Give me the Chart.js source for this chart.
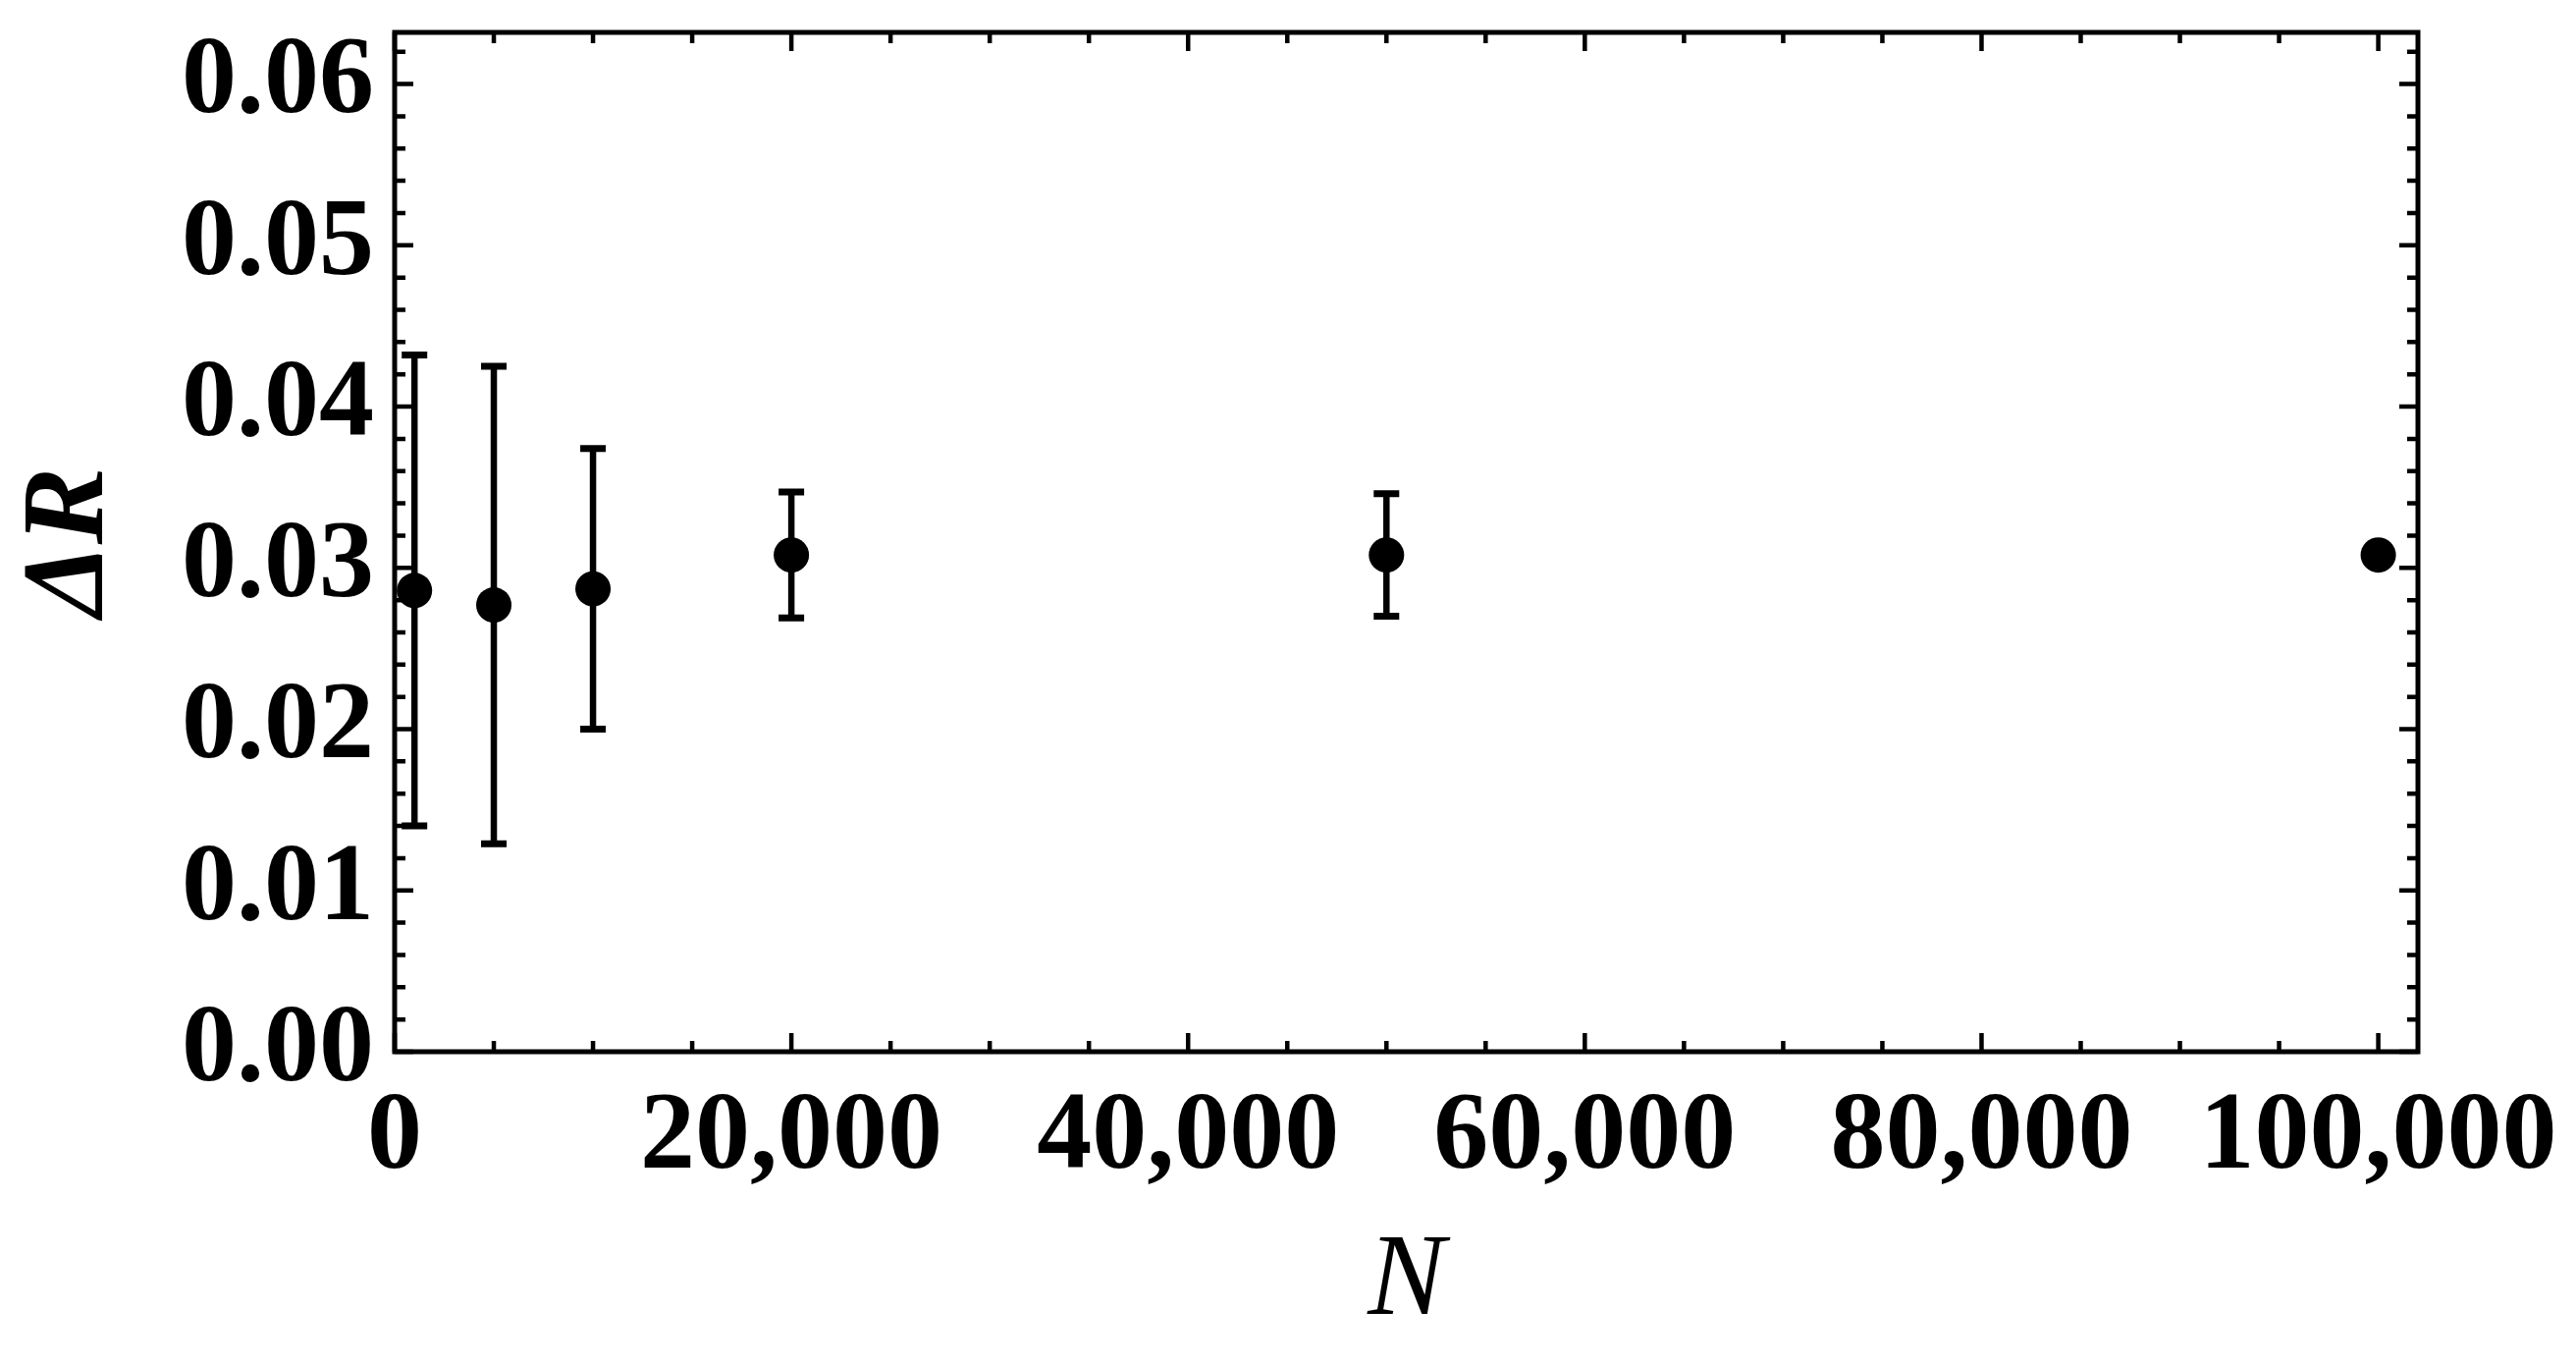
<!DOCTYPE html>
<html>
<head>
<meta charset="utf-8">
<script src="https://cdn.jsdelivr.net/npm/chart.js@4.4.1/dist/chart.umd.min.js"></script>
<style>
html,body{margin:0;padding:0;background:#fff;}
#wrap{width:2624px;height:1389px;}
</style>
</head>
<body>
<div id="wrap"><canvas id="c" width="2624" height="1389"></canvas></div>
<script>
// Data
const sampleSizes = [1000, 5000, 10000, 20000, 50000, 100000];
const deltaR      = [0.0286, 0.0277, 0.0287, 0.0308, 0.0308, 0.0308];
const deltaRErr   = [0.0146, 0.0148, 0.0087, 0.0039, 0.0038, 0];

const xTickValues = [0, 20000, 40000, 60000, 80000, 100000];
const yTickValues = [0.00, 0.01, 0.02, 0.03, 0.04, 0.05, 0.06];
const xMinorStep = 5000;
const yMinorStep = 0.002;

const X_MIN = 0, X_MAX = 102000;
const Y_MIN = 0, Y_MAX = 0.0632;

const FONT = "'Liberation Serif', 'Times New Roman', serif";

const points = sampleSizes.map((n, i) => ({x: n, y: deltaR[i]}));

const errorBarPlugin = {
  id: 'errorBars',
  beforeDatasetsDraw(chart) {
    const ctx = chart.ctx;
    const xs = chart.scales.x, ys = chart.scales.y;
    ctx.save();
    ctx.strokeStyle = '#000';
    ctx.lineCap = 'butt';
    sampleSizes.forEach((n, i) => {
      const e = deltaRErr[i];
      if (!e) return;
      const px = xs.getPixelForValue(n);
      const top = ys.getPixelForValue(deltaR[i] + e);
      const bot = ys.getPixelForValue(deltaR[i] - e);
      ctx.lineWidth = 6.5;
      ctx.beginPath();
      ctx.moveTo(px, top); ctx.lineTo(px, bot);
      ctx.stroke();
      ctx.lineWidth = 7;
      ctx.beginPath();
      ctx.moveTo(px - 13, top); ctx.lineTo(px + 13, top);
      ctx.moveTo(px - 13, bot); ctx.lineTo(px + 13, bot);
      ctx.stroke();
    });
    ctx.restore();
  }
};

const framePlugin = {
  id: 'frameTicks',
  afterDraw(chart) {
    const ctx = chart.ctx;
    const a = chart.chartArea;
    const xs = chart.scales.x, ys = chart.scales.y;
    ctx.save();
    ctx.strokeStyle = '#000';
    ctx.lineWidth = 4.5;
    ctx.beginPath();
    const eps = 1e-9;
    for (let v = 0; v <= X_MAX + eps; v += xMinorStep) {
      const major = xTickValues.some(t => Math.abs(t - v) < 1);
      const len = major ? 19 : 11;
      const px = xs.getPixelForValue(v);
      ctx.moveTo(px, a.bottom); ctx.lineTo(px, a.bottom - len);
      ctx.moveTo(px, a.top); ctx.lineTo(px, a.top + len);
    }
    for (let k = 0; k * yMinorStep <= Y_MAX + eps; k++) {
      const v = k * yMinorStep;
      const major = yTickValues.some(t => Math.abs(t - v) < 1e-6);
      const len = major ? 19 : 11;
      const py = ys.getPixelForValue(v);
      ctx.moveTo(a.left, py); ctx.lineTo(a.left + len, py);
      ctx.moveTo(a.right, py); ctx.lineTo(a.right - len, py);
    }
    ctx.stroke();
    ctx.lineWidth = 5;
    ctx.strokeRect(a.left, a.top, a.right - a.left, a.bottom - a.top);
    ctx.restore();
  }
};

new Chart(document.getElementById('c'), {
  type: 'scatter',
  data: {
    datasets: [{
      data: points,
      backgroundColor: '#000',
      borderColor: '#000',
      pointRadius: 18,
      pointHoverRadius: 18,
      borderWidth: 0
    }]
  },
  options: {
    responsive: false,
    animation: false,
    devicePixelRatio: 1,
    events: [],
    layout: {padding: {top: 33, right: 161, left: 0, bottom: 0}},
    plugins: {legend: {display: false}, tooltip: {enabled: false}},
    scales: {
      x: {
        type: 'linear',
        min: X_MIN, max: X_MAX,
        grid: {display: false, drawTicks: false},
        border: {display: false},
        afterFit(scale) { scale.height = 318; scale.paddingLeft = 0; scale.paddingRight = 0; },
        afterBuildTicks(scale) { scale.ticks = xTickValues.map(v => ({value: v})); },
        ticks: {
          color: '#000',
          padding: 22,
          maxRotation: 0,
          autoSkip: false,
          font: {family: FONT, size: 112, weight: 'bold'},
          callback: v => Number(v).toLocaleString('en-US')
        },
        title: {
          display: true,
          text: 'N',
          color: '#000',
          padding: {top: 0, bottom: 23},
          font: {family: FONT, size: 118, style: 'italic', lineHeight: 1}
        }
      },
      y: {
        type: 'linear',
        min: Y_MIN, max: Y_MAX,
        grid: {display: false, drawTicks: false},
        border: {display: false},
        afterFit(scale) { scale.width = 402; scale.paddingTop = 0; scale.paddingBottom = 0; },
        afterBuildTicks(scale) { scale.ticks = yTickValues.map(v => ({value: v})); },
        ticks: {
          color: '#000',
          padding: 21,
          autoSkip: false,
          font: {family: FONT, size: 112, weight: 'bold'},
          callback: v => Number(v).toFixed(2)
        },
        title: {
          display: true,
          text: 'ΔR',
          color: '#000',
          padding: {top: 15, bottom: 0},
          font: {family: FONT, size: 118, style: 'italic', weight: 'bold', lineHeight: 1}
        }
      }
    }
  },
  plugins: [errorBarPlugin, framePlugin]
});
</script>
</body>
</html>
